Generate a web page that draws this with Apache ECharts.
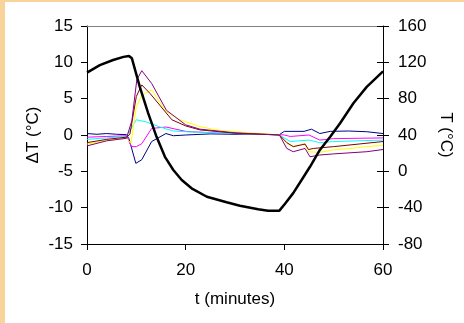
<!DOCTYPE html>
<html>
<head>
<meta charset="utf-8">
<script src="https://cdn.jsdelivr.net/npm/echarts@6/dist/echarts.min.js"></script>
<style>
  html, body { margin: 0; padding: 0; background: #f8d49a; }
  #frame { position: absolute; left: 5px; top: 2px; right: 0; bottom: 0; background: #fff; }
  #chart { position: absolute; left: 0; top: 0; width: 464px; height: 323px; }
</style>
</head>
<body>
<div id="frame"></div>
<div id="chart"></div>
<script>
// [t (minutes), value] pairs
const oven = [[0,108.6],[2.6,117],[5.3,122.6],[7.4,126],[8.5,127],[9.1,124.4],[10.7,93],[12.4,64],[14.1,38],[15.8,16],[17.5,1.5],[19.2,-9.5],[21.2,-18.7],[24.3,-28],[28.3,-34],[31,-37.8],[34.7,-41.8],[36.7,-43.3],[39,-43.3],[40.1,-36],[41.8,-24],[43.5,-9.5],[45.2,5],[47.2,23.5],[49.3,38],[51.3,53],[54,75],[56.7,93],[60,110]]

const navy = [[0,0.2],[2,0.1],[4,0.2],[6,0.1],[8,0.05],[8.5,-0.5],[9.9,-3.9],[11.1,-3.4],[13.1,-0.9],[16,0.2],[17.5,-0.1],[20,0],[25,0.15],[30,0.1],[35,0.1],[39,0.05],[40,0.5],[44,0.5],[45.5,0.8],[47.2,0.2],[49.3,0.5],[53,0.55],[56.7,0.45],[60,0.2]]
const magenta = [[0,-0.3],[4,-0.2],[8,-0.1],[9,-1.6],[10,-1.6],[11.1,-1.2],[13.1,0.9],[16,1.1],[20,0.5],[25,0.3],[30,0.2],[35,0.1],[39,0.05],[40,0],[41.2,-0.2],[45,0],[47.2,-0.7],[50,-0.5],[60,-0.4]]
const cyan = [[0,-0.6],[4,-0.4],[8,-0.2],[10,2.1],[12,1.8],[14.8,1.1],[17.5,0.55],[20,0.45],[30,0.2],[35,0.1],[39,0],[41.2,-0.9],[45,-0.7],[47.2,-1.05],[50,-0.9],[60,-0.7]]
const yellow = [[0,-1.25],[2.6,-0.9],[8,-0.45],[8.9,-1.15],[10,3.9],[11.1,5.5],[13.1,6.2],[16.1,3.2],[18.8,2.1],[22.9,1.15],[26.3,0.7],[30,0.45],[35.4,0.2],[39,0],[40.5,-1.15],[41.8,-1.6],[44.2,-1.15],[44.9,-2.3],[47.2,-2.4],[49.9,-2.05],[53.3,-1.85],[56.7,-1.6],[60,-1.4]]
const brown = [[0,-1.05],[4,-0.6],[8,-0.3],[8.7,0.1],[10,5.3],[11.1,6.9],[12.8,5.7],[17.2,2.1],[20,1.25],[22.9,0.7],[30,0.25],[39,0],[40.5,-1.05],[41.8,-1.6],[44.2,-1.25],[44.9,-2.0],[45.9,-1.85],[50,-1.6],[60,-0.9]]
const purple = [[0,-1.5],[4,-0.8],[8,-0.45],[9.1,2],[10.1,7.6],[11.1,8.85],[13.1,7.1],[16.1,3.4],[20,1.4],[22.9,0.8],[30,0.3],[39,0],[40.5,-1.85],[41.8,-2.3],[44.2,-1.85],[45.2,-3.0],[47.2,-2.75],[50,-2.6],[56.7,-2.3],[60,-2.0]]

const thinSeries = [
  { data: navy, color: '#000080' },
  { data: magenta, color: '#ff00ff' },
  { data: cyan, color: '#00ffff' },
  { data: yellow, color: '#ffff00' },
  { data: brown, color: '#800000' },
  { data: purple, color: '#800080' },
]

const font = 'Liberation Sans, Arial, sans-serif'
const text = { color: '#000', fontSize: 17, fontFamily: font }
const chart = echarts.init(document.getElementById('chart'))

chart.setOption({
  backgroundColor: 'transparent',
  animation: false,
  grid: { left: 87, top: 26, right: 81, bottom: 79 },
  xAxis: [
    {
      type: 'value', min: 0, max: 60, interval: 20,
      name: 't (minutes)', nameLocation: 'middle', nameGap: 47,
      nameTextStyle: text,
      axisLine: { onZero: false, lineStyle: { color: '#000', width: 1 } },
      axisTick: { length: 6, lineStyle: { color: '#000' } },
      axisLabel: { ...text, margin: 18 },
      splitLine: { show: false },
    },
    {
      type: 'value', min: 0, max: 60, position: 'top',
      axisLine: { onZero: false, lineStyle: { color: '#808080', width: 1 } },
      axisTick: { show: false }, axisLabel: { show: false }, splitLine: { show: false },
    },
  ],
  yAxis: [
    {
      type: 'value', min: -15, max: 15, interval: 5, position: 'left',
      name: 'ΔT (°C)', nameLocation: 'middle', nameGap: 45, nameMoveOverlap: false,
      nameTextStyle: text,
      axisLine: { show: true, onZero: false, lineStyle: { color: '#000', width: 1 } },
      axisTick: { length: 6, lineStyle: { color: '#000' } },
      axisLabel: { ...text, margin: 14 },
      splitLine: { show: false },
    },
    {
      type: 'value', min: -80, max: 160, interval: 40, position: 'right',
      name: 'T (°C)', nameLocation: 'middle', nameGap: 51, nameRotate: -90,
      nameTextStyle: text,
      axisLine: { show: true, onZero: false, lineStyle: { color: '#000', width: 1 } },
      axisTick: { length: 6, lineStyle: { color: '#000' } },
      axisLabel: { ...text, margin: 15 },
      splitLine: { show: false },
    },
    {
      type: 'value', min: -80, max: 160, interval: 40, position: 'right', offset: 0,
      axisLine: { show: false, onZero: false },
      axisTick: { inside: true, length: 6, lineStyle: { color: '#000' } },
      axisLabel: { show: false }, splitLine: { show: false },
    },
  ],
  series: thinSeries.map((s) => ({
    type: 'line', data: s.data, yAxisIndex: 0, symbol: 'none',
    lineStyle: { color: s.color, width: 1 }, z: 2,
  })).concat([{
    type: 'line', data: oven, yAxisIndex: 1, symbol: 'none',
    lineStyle: { color: '#000', width: 2.5 }, z: 3,
  }]),
})
</script>
</body>
</html>
